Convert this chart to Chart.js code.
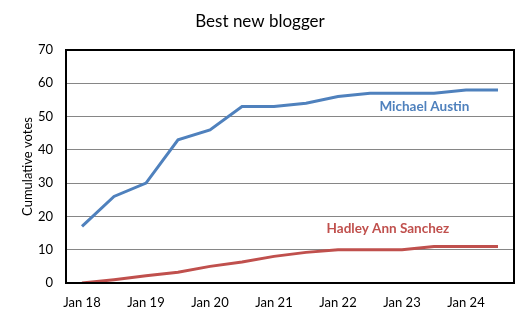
<!DOCTYPE html>
<html>
<head>
<meta charset="utf-8">
<script src="https://cdn.jsdelivr.net/npm/chart.js@4/dist/chart.umd.min.js"></script>
<style>
  html, body { margin: 0; padding: 0; background: #fff; }
  #wrap { width: 529px; height: 319px; }
</style>
</head>
<body>
<div id="wrap"><canvas id="myChart" width="529" height="319"></canvas></div>
<script>
// half-yearly points, labels shown on January only
var periods = ['Jan 18', 'Jul 18', 'Jan 19', 'Jul 19', 'Jan 20', 'Jul 20', 'Jan 21',
               'Jul 21', 'Jan 22', 'Jul 22', 'Jan 23', 'Jul 23', 'Jan 24', 'Jul 24'];
var michaelVotes = [17, 26, 30, 43, 46, 53, 53, 54, 56, 57, 57, 57, 58, 58];
var hadleyVotes = [0, 1, 2.2, 3.2, 5, 6.3, 8, 9.2, 10, 10, 10, 11, 11, 11];
var yTicks = [0, 10, 20, 30, 40, 50, 60, 70];

var FONT = 'Lato, Calibri, sans-serif';

// title, plot frame and the in-chart series names
var extras = {
    id: 'extras',
    afterDraw: function(chart) {
        var c = chart.ctx;
        var a = chart.chartArea;
        var x = chart.scales.x, y = chart.scales.y;
        c.save();
        c.fillStyle = '#000';
        c.font = '17px ' + FONT;
        c.textAlign = 'center';
        c.textBaseline = 'middle';
        c.fillText('Best new blogger', 260, 22);

        c.strokeStyle = '#000';
        c.lineWidth = 2;
        c.strokeRect(a.left, a.top, a.right - a.left, a.bottom - a.top);

        c.font = 'bold 13.5px ' + FONT;
        c.fillStyle = '#4F81BD';
        c.fillText('Michael Austin', x.getPixelForValue(10.7), y.getPixelForValue(53));
        c.fillStyle = '#C0504D';
        c.fillText('Hadley Ann Sanchez', x.getPixelForValue(9.56), y.getPixelForValue(16.2));
        c.restore();
    }
};

var ctx = document.getElementById('myChart').getContext('2d');
var chart = new Chart(ctx, {
    type: 'line',
    data: {
        labels: periods,
        datasets: [{
            label: 'Michael Austin',
            data: michaelVotes,
            borderColor: '#4F81BD',
            borderWidth: 3,
            pointRadius: 0,
            tension: 0
        }, {
            label: 'Hadley Ann Sanchez',
            data: hadleyVotes,
            borderColor: '#C0504D',
            borderWidth: 3,
            pointRadius: 0,
            tension: 0
        }]
    },
    options: {
        responsive: false,
        animation: false,
        layout: { padding: { top: 50, right: 15, left: 0, bottom: 0 } },
        plugins: {
            legend: { display: false },
            tooltip: { enabled: false }
        },
        scales: {
            x: {
                offset: true,
                grid: { display: false, drawTicks: false },
                border: { display: false },
                ticks: {
                    color: '#000',
                    font: { family: FONT, size: 13 },
                    padding: 12,
                    autoSkip: false,
                    maxRotation: 0,
                    callback: function(v, i) { return i % 2 === 0 ? periods[i] : ''; }
                },
                afterFit: function(s) { s.height = 36; }
            },
            y: {
                min: 0,
                max: 70,
                afterBuildTicks: function(s) {
                    s.ticks = yTicks.map(function(v) { return { value: v }; });
                },
                grid: {
                    drawTicks: false,
                    color: function(c) {
                        return (c.tick.value === 0 || c.tick.value === 70) ? 'rgba(0,0,0,0)' : '#868686';
                    },
                    lineWidth: 1
                },
                border: { display: false },
                ticks: {
                    color: '#000',
                    font: { family: FONT, size: 13 },
                    padding: 13
                },
                title: {
                    display: true,
                    text: 'Cumulative votes',
                    color: '#000',
                    font: { family: FONT, size: 13 },
                    padding: { top: 20, bottom: 0 }
                },
                afterFit: function(s) { s.width = 66; }
            }
        }
    },
    plugins: [extras]
});
</script>
</body>
</html>
